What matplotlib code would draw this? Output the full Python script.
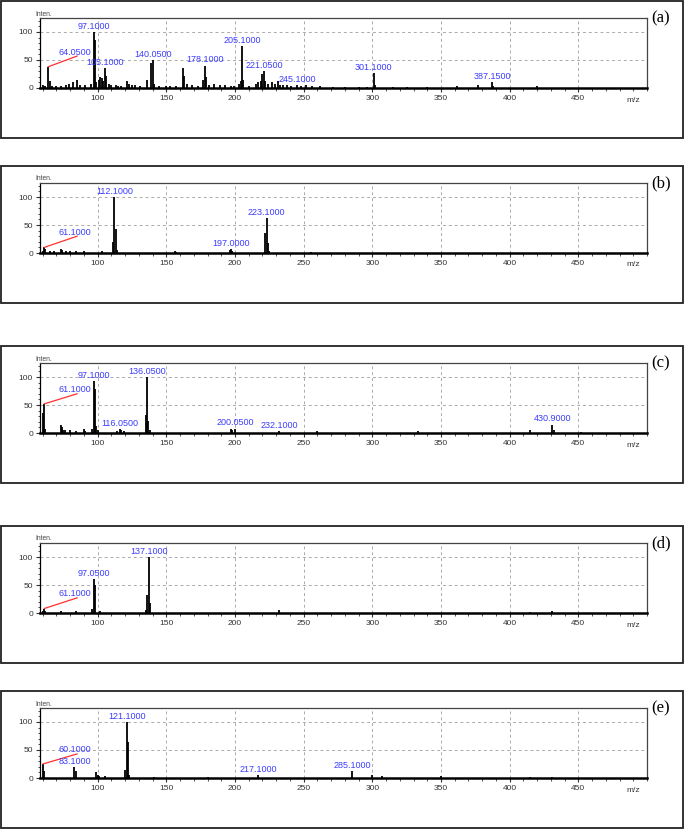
import numpy as np
import matplotlib.pyplot as plt
from matplotlib.patches import Rectangle
from matplotlib.ticker import MultipleLocator

plt.rcParams['font.family'] = ['Liberation Sans', 'DejaVu Sans']

# ピークデータ (m/z, 相対強度)
mz_a = [60, 62, 64.05, 65, 67, 70, 73, 77, 79, 82, 85, 87, 91, 95, 97.1, 98, 99, 101, 102, 103, 104,
        105.1, 106, 108, 110, 113, 115, 117, 121, 123, 125, 127, 131, 136, 139, 140.05, 141, 145, 150,
        153, 157, 162, 163, 165, 169, 173, 177, 178.1, 179, 181, 185, 189, 193, 197, 199, 203, 204,
        205.1, 206, 210, 215, 217, 219, 220, 221.05, 222, 224, 227, 229, 231, 233, 235, 238, 241,
        245.1, 248, 252, 256, 262, 271, 280, 290, 296, 301.1, 302, 315, 325, 340, 362, 377, 387.15,
        388, 420]
int_a = [5, 3, 38, 12, 4, 3, 4, 6, 8, 10, 15, 6, 5, 7, 100, 85, 10, 15, 20, 18, 12,
         35, 22, 8, 5, 5, 4, 3, 12, 8, 5, 6, 4, 14, 45, 50, 8, 4, 3,
         4, 3, 35, 22, 8, 6, 4, 15, 40, 20, 5, 8, 5, 5, 4, 3, 8, 12,
         75, 15, 3, 8, 10, 12, 25, 30, 12, 8, 10, 8, 12, 6, 5, 6, 4,
         6, 3, 5, 3, 4, 2, 2, 2, 2, 27, 6, 2, 2, 2, 3, 6, 10,
         3, 3]
lab_a = [97.1, 105.1, 140.05, 178.1, 205.1, 221.05, 245.1, 301.1, 387.15]

mz_b = [60, 61.1, 62, 65, 68, 73, 74, 77, 80, 84, 90, 103, 111, 112.1, 113, 114, 156, 157,
        196, 197, 198, 222, 223.1, 224, 225, 255]
int_b = [4, 10, 8, 3, 4, 8, 5, 3, 3, 3, 3, 4, 20, 100, 42, 5, 3, 2,
         5, 7, 3, 35, 62, 18, 4, 2]
lab_b = [112.1, 197.0, 223.1]

mz_c = [60, 61.1, 62, 73, 74, 75, 76, 80, 84, 90, 91, 96, 97.1, 98, 99, 100, 114, 116.05, 117,
        119, 135, 136.05, 137, 138, 197, 198, 200.05, 232.1, 260, 333, 415, 430.9, 432, 452]
int_c = [35, 52, 8, 15, 10, 6, 5, 5, 4, 7, 4, 8, 93, 78, 12, 6, 4, 7, 5,
         3, 33, 100, 22, 5, 7, 6, 8, 4, 3, 3, 5, 15, 6, 2]
lab_c = [97.1, 116.05, 136.05, 200.05, 232.1, 430.9]

mz_d = [60, 61.1, 62, 73, 84, 96, 97.05, 98, 102, 135, 136, 137.1, 138, 232, 415, 431]
int_d = [4, 8, 3, 4, 3, 8, 60, 50, 4, 5, 33, 100, 18, 5, 2, 3]
lab_d = [97.05, 137.1]

mz_e = [60.1, 61, 83.1, 84, 99, 100, 101, 105, 120, 121.1, 122, 123, 141, 180, 217.1, 285.1,
        300, 307, 350, 415, 431]
int_e = [25, 13, 20, 12, 10, 6, 4, 3, 15, 100, 65, 5, 2, 2, 5, 13,
         5, 4, 3, 2, 2]
lab_e = [83.1, 121.1, 217.1, 285.1]

# 赤い引き出し線付きのラベル
lead_a, lead_b, lead_c, lead_d, lead_e = 64.05, 61.1, 61.1, 61.1, 60.1

panels = [
    ('(a)', mz_a, int_a, lab_a, lead_a, 57),
    ('(b)', mz_b, int_b, lab_b, lead_b, 30),
    ('(c)', mz_c, int_c, lab_c, lead_c, 70),
    ('(d)', mz_d, int_d, lab_d, lead_d, 27),
    ('(e)', mz_e, int_e, lab_e, lead_e, 43),
]
box_tops = [1, 166, 346, 526, 691]

W, H = 685, 830
fig = plt.figure(figsize=(W / 100, H / 100), dpi=100)
blue = '#3c3cff'

for (name, mz, inten, labs, lead, lead_y), T in zip(panels, box_tops):
    fig.add_artist(Rectangle((1 / W, 1 - (T + 137) / H), 682 / W, 137 / H,
                             transform=fig.transFigure, fill=False, ec='#222222', lw=1.3))
    ax = fig.add_axes([40 / W, 1 - (T + 87) / H, 607 / W, 70 / H])
    ax.vlines(mz, 0, inten, color='black', lw=1.3)
    ax.set_xlim(58, 500)
    ax.set_ylim(0, 125)
    ax.xaxis.set_major_locator(MultipleLocator(50))
    ax.xaxis.set_minor_locator(MultipleLocator(10))
    ax.yaxis.set_major_locator(MultipleLocator(50))
    ax.yaxis.set_minor_locator(MultipleLocator(10))
    ax.set_xticks([100, 150, 200, 250, 300, 350, 400, 450])
    ax.grid(True, which='major', ls=(0, (3, 3)), color='#aaaaaa', lw=0.7)
    ax.tick_params(labelsize=6, colors='#333333', length=3, width=0.8, pad=2)
    ax.tick_params(which='minor', length=1.8, width=0.6, colors='#333333')
    for s in ax.spines.values():
        s.set_color('#444444')
        s.set_linewidth(0.9)
    ax.spines['bottom'].set_color('black')
    ax.spines['bottom'].set_linewidth(1.8)
    ax.spines['left'].set_color('black')

    for m in labs:
        h = inten[mz.index(m)]
        ax.text(m, h + 2, f'{m:.4f}', color=blue, fontsize=6.5, ha='center', va='bottom')
    h = inten[mz.index(lead)]
    ax.plot([lead, 85], [h, lead_y], color='#ff3030', lw=0.9)
    ax.text(83, lead_y - 1, f'{lead:.4f}', color=blue, fontsize=6.5, ha='center', va='bottom')

    fig.text(35 / W, 1 - (T + 13) / H, 'Inten.', fontsize=4.8, color='#444444', va='center')
    fig.text(633 / W, 1 - (T + 99) / H, 'm/z', fontsize=6, color='#333333', ha='center', va='center')
    fig.text(661 / W, 1 - (T + 17) / H, name, fontsize=12, family='Liberation Serif',
             ha='center', va='center')

fig.savefig('out.png', dpi=100)
